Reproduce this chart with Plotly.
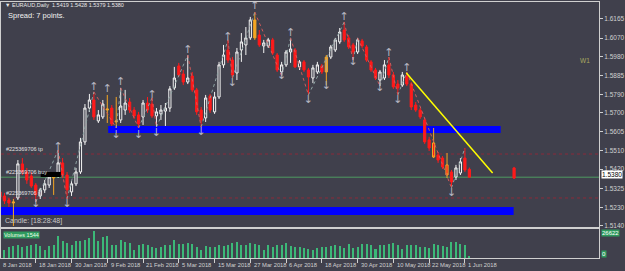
import plotly.graph_objects as go

# ---------------- data ----------------
date_ticks = [0, 8, 16, 24, 32, 40, 48, 56, 64, 72, 80, 88, 96, 104]
date_labels = ["8 Jan 2018", "18 Jan 2018", "30 Jan 2018", "9 Feb 2018", "21 Feb 2018",
               "5 Mar 2018", "15 Mar 2018", "27 Mar 2018", "6 Apr 2018", "18 Apr 2018",
               "30 Apr 2018", "10 May 2018", "22 May 2018", "1 Jun 2018"]

opens = [1.5307, 1.5287, 1.5267, 1.5252, 1.5277, 1.5446, 1.5406, 1.5386, 1.5341, 1.5287,
         1.5317, 1.5341, 1.5376, 1.5386, 1.5451, 1.5391, 1.5307, 1.5347, 1.5406, 1.5555,
         1.5723, 1.5763, 1.5659, 1.5679, 1.5713, 1.5723, 1.5654, 1.5664, 1.5713, 1.5753,
         1.5713, 1.5689, 1.5679, 1.5748, 1.5743, 1.5684, 1.5694, 1.5708, 1.5723, 1.5823,
         1.5932, 1.5892, 1.5852, 1.5882, 1.5813, 1.5713, 1.5674, 1.5783, 1.5704, 1.5778,
         1.5937, 1.6011, 1.5961, 1.5897, 1.6011, 1.6036, 1.6071, 1.6160, 1.6085, 1.6031,
         1.6031, 1.6061, 1.5986, 1.5902, 1.5937, 1.6001, 1.6011, 1.5927, 1.5952, 1.5912,
         1.5872, 1.5902, 1.5932, 1.5902, 1.5976, 1.6011, 1.6051, 1.6110, 1.6071, 1.6036,
         1.6001, 1.6056, 1.6026, 1.5952, 1.5912, 1.5862, 1.5872, 1.5937, 1.5887, 1.5842,
         1.5837, 1.5882, 1.5842, 1.5738, 1.5713, 1.5664, 1.5565, 1.5550, 1.5490, 1.5475,
         1.5441, 1.5406, 1.5381, 1.5401, 1.5475, 1.5419]
highs = [1.5317, 1.5302, 1.5277, 1.5272, 1.5465, 1.5475, 1.5426, 1.5406, 1.5351, 1.5327,
         1.5366, 1.5406, 1.5391, 1.5515, 1.5475, 1.5406, 1.5361, 1.5426, 1.5575, 1.5743,
         1.5793, 1.5803, 1.5713, 1.5763, 1.5788, 1.5738, 1.5778, 1.5823, 1.5813, 1.5773,
         1.5728, 1.5704, 1.5763, 1.5778, 1.5773, 1.5723, 1.5738, 1.5748, 1.5832, 1.5927,
         1.5947, 1.5912, 1.5986, 1.5902, 1.5823, 1.5728, 1.5788, 1.5793, 1.5803, 1.5952,
         1.6036, 1.6061, 1.5976, 1.6021, 1.6095, 1.6125, 1.6175, 1.6199, 1.6110, 1.6061,
         1.6071, 1.6071, 1.5996, 1.5952, 1.6011, 1.6071, 1.6021, 1.5961, 1.5961, 1.5922,
         1.5937, 1.5952, 1.5942, 1.5986, 1.6036, 1.6071, 1.6120, 1.6150, 1.6085, 1.6046,
         1.6071, 1.6066, 1.6036, 1.5961, 1.5922, 1.5912, 1.5961, 1.5976, 1.5902, 1.5862,
         1.5902, 1.5902, 1.5852, 1.5753, 1.5723, 1.5674, 1.5580, 1.5624, 1.5505, 1.5485,
         1.5500, 1.5416, 1.5441, 1.5475, 1.5525, 1.5428]
lows = [1.5272, 1.5247, 1.5232, 1.5138, 1.5267, 1.5391, 1.5347, 1.5327, 1.5257, 1.5272,
        1.5302, 1.5327, 1.5292, 1.5376, 1.5376, 1.5272, 1.5287, 1.5336, 1.5396, 1.5540,
        1.5704, 1.5664, 1.5649, 1.5669, 1.5649, 1.5634, 1.5624, 1.5649, 1.5689, 1.5699,
        1.5669, 1.5624, 1.5639, 1.5699, 1.5674, 1.5629, 1.5664, 1.5634, 1.5704, 1.5813,
        1.5877, 1.5837, 1.5842, 1.5803, 1.5689, 1.5629, 1.5654, 1.5699, 1.5694, 1.5768,
        1.5922, 1.5947, 1.5872, 1.5862, 1.5952, 1.5986, 1.6061, 1.6061, 1.6026, 1.5996,
        1.6021, 1.5986, 1.5902, 1.5882, 1.5927, 1.5947, 1.5922, 1.5912, 1.5902, 1.5788,
        1.5847, 1.5892, 1.5892, 1.5837, 1.5966, 1.6001, 1.6041, 1.6051, 1.6016, 1.5961,
        1.5991, 1.6021, 1.5952, 1.5902, 1.5862, 1.5832, 1.5862, 1.5872, 1.5818, 1.5788,
        1.5828, 1.5832, 1.5713, 1.5704, 1.5669, 1.5545, 1.5510, 1.5475, 1.5451, 1.5421,
        1.5376, 1.5327, 1.5366, 1.5391, 1.5406, 1.5379]
closes = [1.5282, 1.5262, 1.5252, 1.5257, 1.5446, 1.5406, 1.5366, 1.5336, 1.5292, 1.5317,
          1.5347, 1.5381, 1.5381, 1.5451, 1.5391, 1.5317, 1.5347, 1.5406, 1.5555, 1.5723,
          1.5763, 1.5679, 1.5689, 1.5743, 1.5718, 1.5644, 1.5659, 1.5733, 1.5748, 1.5713,
          1.5684, 1.5644, 1.5748, 1.5713, 1.5684, 1.5704, 1.5713, 1.5723, 1.5818, 1.5872,
          1.5887, 1.5852, 1.5872, 1.5813, 1.5704, 1.5664, 1.5773, 1.5713, 1.5778, 1.5937,
          1.5986, 1.5961, 1.5887, 1.6001, 1.6051, 1.6071, 1.6160, 1.6071, 1.6036, 1.6046,
          1.6061, 1.5996, 1.5912, 1.5937, 1.6001, 1.6016, 1.5927, 1.5952, 1.5912, 1.5877,
          1.5922, 1.5937, 1.5902, 1.5976, 1.6026, 1.6061, 1.6100, 1.6061, 1.6026, 1.6001,
          1.6061, 1.6031, 1.5961, 1.5912, 1.5872, 1.5902, 1.5937, 1.5887, 1.5828, 1.5823,
          1.5887, 1.5842, 1.5728, 1.5713, 1.5679, 1.5555, 1.5525, 1.5480, 1.5465, 1.5431,
          1.5391, 1.5356, 1.5426, 1.5456, 1.5416, 1.5380]
volumes = [5500, 7400, 10100, 11000, 12000, 10100, 11000, 12000, 12900, 11000,
           7400, 11000, 12000, 20200, 15600, 13800, 12000, 15600, 15600, 16600,
           18400, 24800, 15600, 19300, 20200, 12000, 12000, 16600, 14700, 13800,
           7400, 12000, 12900, 12000, 10100, 9200, 10100, 12000, 12000, 16600,
           12900, 12900, 13800, 12900, 10100, 7400, 11000, 10100, 10100, 12000,
           11000, 12000, 13800, 14700, 12000, 12000, 13800, 12900, 12000, 7400,
           12000, 10100, 12000, 12000, 13800, 11000, 10100, 10100, 9200, 8300,
           7400, 9200, 10100, 10100, 11000, 12000, 11000, 9200, 12900, 9200,
           10100, 12900, 12900, 12000, 8300, 12000, 12000, 12900, 13800, 12000,
           8300, 12000, 12000, 12000, 10100, 10100, 9200, 12900, 12000, 11000,
           10100, 14700, 14700, 12900, 12000, 1544]

# highlighted (orange) candles and red candles with orange wicks
orange_bars = [3, 12, 24, 26, 57, 73]
orange_wick_bars = [97, 100]

# projected candle at the right
proj_idx = [115]
proj_open = [1.5426]
proj_high = [1.5431]
proj_low = [1.5371]
proj_close = [1.5376]

# zigzag swing points (bar index, price)
zz_idx = [8, 13, 15, 21, 26, 27, 31, 34, 35, 42, 45, 51, 52, 57, 63, 65, 69, 77, 79, 80,
          85, 87, 89, 91, 101, 104]
zz_price = [1.5257, 1.5515, 1.5272, 1.5803, 1.5624, 1.5823, 1.5624, 1.5773, 1.5629, 1.5986,
            1.5629, 1.6061, 1.5872, 1.6199, 1.5882, 1.6071, 1.5788, 1.6150, 1.5961, 1.6071,
            1.5832, 1.5976, 1.5788, 1.5902, 1.5327, 1.5525]

# fractal arrows
up_arrow_idx = [13, 21, 24, 27, 34, 42, 51, 57, 65, 77, 87, 91]
up_arrow_price = [1.5530, 1.5828, 1.5818, 1.5852, 1.5788, 1.6011, 1.6075, 1.6229, 1.6095,
                  1.6175, 1.5996, 1.5922]
dn_arrow_idx = [8, 15, 26, 31, 35, 45, 52, 63, 69, 73, 79, 85, 89, 101]
dn_arrow_price = [1.5247, 1.5247, 1.5589, 1.5589, 1.5599, 1.5604, 1.5847, 1.5882, 1.5763,
                  1.5832, 1.5952, 1.5823, 1.5763, 1.5302]

# horizontal zones (blue rectangles): [x0, x1, price_low, price_high]
zone_upper = [24.2, 112.0, 1.5599, 1.5634]
zone_lower = [-5.0, 114.9, 1.5193, 1.5232]

# trend line: (x0, p0) -> (x1, p1)
trend_line = [90.9, 1.5897, 110.2, 1.5401]

# order lines
tp_level = 1.5495
open_level = 1.5380
sl_level = 1.5277
black_box = [9.1, 13.6, 1.5381, 1.5406]

price_ticks = [1.6165, 1.6070, 1.5980, 1.5885, 1.5790, 1.5700, 1.5605, 1.5510, 1.5420,
               1.5325, 1.5230, 1.5140]
vol_max = 26622
current_price = "1.5380"

# ---------------- styling ----------------
BG = "#40404c"
FG = "#d0d0d0"
RED = "#ff1a1a"
ORANGE = "#f5a623"
FONT = "Liberation Sans"

n = len(closes)
idx = list(range(n))
special = set(orange_bars) | set(orange_wick_bars)
norm = [i for i in idx if i not in special]

def sub(arr, ids):
    return [arr[i] for i in ids]

fig = go.Figure()

fig.add_trace(go.Candlestick(
    x=norm, open=sub(opens, norm), high=sub(highs, norm), low=sub(lows, norm), close=sub(closes, norm),
    increasing=dict(line=dict(color="#f2f2f2", width=1), fillcolor=BG),
    decreasing=dict(line=dict(color=RED, width=1), fillcolor=RED),
    hoverinfo="skip", showlegend=False))
fig.add_trace(go.Candlestick(
    x=orange_bars, open=sub(opens, orange_bars), high=sub(highs, orange_bars),
    low=sub(lows, orange_bars), close=sub(closes, orange_bars),
    increasing=dict(line=dict(color=ORANGE, width=1), fillcolor="#c8a878"),
    decreasing=dict(line=dict(color=ORANGE, width=1), fillcolor=ORANGE),
    hoverinfo="skip", showlegend=False))
fig.add_trace(go.Candlestick(
    x=orange_wick_bars, open=sub(opens, orange_wick_bars), high=sub(highs, orange_wick_bars),
    low=sub(lows, orange_wick_bars), close=sub(closes, orange_wick_bars),
    increasing=dict(line=dict(color=ORANGE, width=1), fillcolor=RED),
    decreasing=dict(line=dict(color=ORANGE, width=1), fillcolor=RED),
    hoverinfo="skip", showlegend=False))
fig.add_trace(go.Candlestick(
    x=proj_idx, open=proj_open, high=proj_high, low=proj_low, close=proj_close,
    increasing=dict(line=dict(color=RED, width=1), fillcolor=RED),
    decreasing=dict(line=dict(color=RED, width=1), fillcolor=RED),
    hoverinfo="skip", showlegend=False))

# zigzag legs
up_x, up_y, dn_x, dn_y = [], [], [], []
for k in range(len(zz_idx) - 1):
    if zz_price[k + 1] > zz_price[k]:
        up_x += [zz_idx[k], zz_idx[k + 1], None]
        up_y += [zz_price[k], zz_price[k + 1], None]
    else:
        dn_x += [zz_idx[k], zz_idx[k + 1], None]
        dn_y += [zz_price[k], zz_price[k + 1], None]
fig.add_trace(go.Scatter(x=up_x, y=up_y, mode="lines", line=dict(color="#8fa4a4", width=1, dash="dot"),
                         hoverinfo="skip", showlegend=False))
fig.add_trace(go.Scatter(x=dn_x, y=dn_y, mode="lines", line=dict(color="#d05a5a", width=1, dash="dot"),
                         hoverinfo="skip", showlegend=False))

fig.add_trace(go.Scatter(x=up_arrow_idx, y=up_arrow_price, mode="text", text=["↑"] * len(up_arrow_idx),
                         textfont=dict(color="#b4b4c0", size=11, family="DejaVu Sans"),
                         hoverinfo="skip", showlegend=False))
fig.add_trace(go.Scatter(x=dn_arrow_idx, y=dn_arrow_price, mode="text", text=["↓"] * len(dn_arrow_idx),
                         textfont=dict(color="#b4b4c0", size=11, family="DejaVu Sans"),
                         hoverinfo="skip", showlegend=False))

# volumes
fig.add_trace(go.Bar(x=idx, y=volumes, width=0.45, marker=dict(color="#3cb878", line=dict(width=0)),
                     xaxis="x2", yaxis="y2", hoverinfo="skip", showlegend=False))

x_range = [0.222, 134.0]
main_dom = [0.1211, 1.0]
vol_dom = [0.0, 0.1133]

fig.update_layout(
    width=625, height=271,
    margin=dict(l=0, r=23, t=2, b=13),
    paper_bgcolor=BG, plot_bgcolor=BG,
    showlegend=False,
    xaxis=dict(range=x_range, domain=[0, 1], anchor="y", showticklabels=False, ticks="",
               showgrid=False, zeroline=False, showline=True, mirror=True, linecolor=FG, linewidth=1,
               rangeslider=dict(visible=False)),
    yaxis=dict(domain=main_dom, range=[1.5133, 1.6249], side="right", anchor="x",
               tickvals=price_ticks, ticktext=[f"{v:.4f}" for v in price_ticks],
               ticks="outside", ticklen=3, tickcolor=FG, tickfont=dict(color=FG, size=6.5, family=FONT),
               showgrid=False, zeroline=False, showline=True, mirror=True, linecolor=FG, linewidth=1),
    xaxis2=dict(range=x_range, domain=[0, 1], anchor="y2", matches="x",
                tickvals=date_ticks, ticktext=[""] * len(date_ticks), ticks="outside", ticklen=4,
                tickcolor=FG, showgrid=False, zeroline=False, showline=True, mirror=True,
                linecolor=FG, linewidth=1),
    yaxis2=dict(domain=vol_dom, range=[0, vol_max], side="right", anchor="x2",
                showticklabels=False, ticks="", showgrid=False, zeroline=False,
                showline=True, mirror=True, linecolor=FG, linewidth=1),
    bargap=0,
)

shapes = []
shapes.append(dict(type="rect", xref="x", yref="y", x0=zone_upper[0], x1=zone_upper[1],
                   y0=zone_upper[2], y1=zone_upper[3], fillcolor="#0000ff", line=dict(width=0), layer="below"))
shapes.append(dict(type="rect", xref="x", yref="y", x0=zone_lower[0], x1=zone_lower[1],
                   y0=zone_lower[2], y1=zone_lower[3], fillcolor="#0000ff", line=dict(width=0), layer="below"))
for lvl, col, dash in [(tp_level, "#8a2a3a", "dot"), (sl_level, "#8a2a3a", "dot"), (open_level, "#4e9a62", "solid")]:
    shapes.append(dict(type="line", xref="x domain", yref="y", x0=0, x1=1, y0=lvl, y1=lvl,
                       line=dict(color=col, width=1, dash=dash), layer="below"))
shapes.append(dict(type="rect", xref="x", yref="y", x0=black_box[0], x1=black_box[1],
                   y0=black_box[2], y1=black_box[3], fillcolor="#000000", line=dict(width=0), layer="above"))
shapes.append(dict(type="line", xref="x", yref="y", x0=trend_line[0], y0=trend_line[1],
                   x1=trend_line[2], y1=trend_line[3], line=dict(color="#ffff00", width=1.5), layer="above"))
fig.update_layout(shapes=shapes)

ann = []
ann.append(dict(text="▼ EURAUD,Daily  1.5419 1.5428 1.5379 1.5380", xref="paper", yref="paper",
                x=0.004, y=0.988, xanchor="left", yanchor="middle", showarrow=False,
                font=dict(color="#e8e8e8", size=5.5, family=FONT)))
ann.append(dict(text="Spread: 7 points.", xref="paper", yref="paper", x=0.009, y=0.949,
                xanchor="left", yanchor="middle", showarrow=False,
                font=dict(color="#f0f0f0", size=7.5, family=FONT)))
ann.append(dict(text="W1", xref="paper", yref="paper", x=0.976, y=0.773, xanchor="center",
                yanchor="middle", showarrow=False, font=dict(color="#a8a860", size=6.5, family=FONT)))
ann.append(dict(text="Candle: [18:28:48]", xref="paper", yref="paper", x=0.004, y=0.143,
                xanchor="left", yanchor="middle", showarrow=False,
                font=dict(color="#c8c8c8", size=7, family=FONT)))
for lvl, txt in [(tp_level, "#225369706 tp"), (open_level, "#225369706 buy"), (sl_level, "#225369706 sl")]:
    ann.append(dict(text=txt, xref="x", yref="y", x=1.0, y=lvl, xanchor="left", yanchor="bottom",
                    showarrow=False, font=dict(color="#e0e0e0", size=5.5, family=FONT)))
ann.append(dict(text=current_price, xref="paper", yref="y", x=1.003, y=1.5380, xanchor="left",
                yanchor="middle", yshift=3, showarrow=False, bgcolor="#ffffff", borderpad=0,
                font=dict(color="#000000", size=6.5, family=FONT)))
ann.append(dict(text="Volumes 1544", xref="paper", yref="paper", x=0.004, y=vol_dom[1] - 0.008,
                xanchor="left", yanchor="top", showarrow=False, bgcolor="#2e9a5e", borderpad=0,
                font=dict(color="#e8ffe8", size=5.5, family=FONT)))
ann.append(dict(text=str(vol_max), xref="paper", yref="paper", x=1.003, y=vol_dom[1],
                xanchor="left", yanchor="top", showarrow=False, bgcolor="#2e9a5e", borderpad=0,
                font=dict(color="#ffffff", size=6, family=FONT)))
ann.append(dict(text="0", xref="paper", yref="paper", x=1.003, y=0.0,
                xanchor="left", yanchor="bottom", showarrow=False, bgcolor="#2e9a5e", borderpad=0,
                font=dict(color="#ffffff", size=6, family=FONT)))
for t, lab in zip(date_ticks, date_labels):
    ann.append(dict(text=lab, xref="x2", yref="paper", x=t + 0.3, y=-0.027, xanchor="left",
                    yanchor="middle", showarrow=False, font=dict(color=FG, size=5.8, family=FONT)))
fig.update_layout(annotations=ann)

fig.write_html("out.html")
